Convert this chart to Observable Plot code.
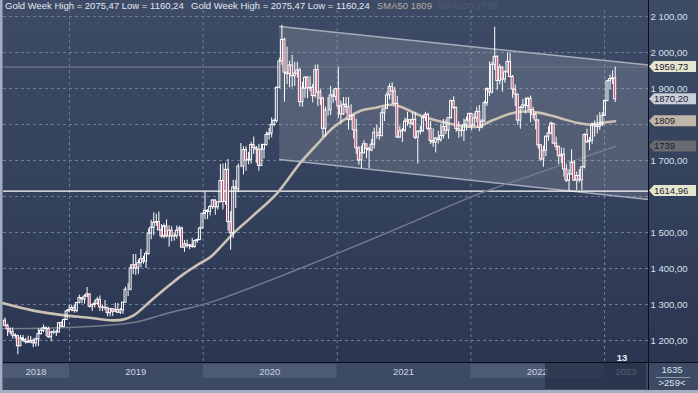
<!DOCTYPE html>
<html><head><meta charset="utf-8">
<script src="https://cdn.jsdelivr.net/npm/d3@7"></script>
<script src="https://cdn.jsdelivr.net/npm/@observablehq/plot@0.6"></script>
<style>
html,body{margin:0;padding:0;background:#2b3752;}
#chart svg{display:block}
</style></head><body><div id="chart"></div>
<script>
// Weekly gold candles, first week starting 2018-07-02
const firstWeek = "2018-07-02";
const opens = [
1252,1255,1241,1231,1223,1214,1212,1184,1206,1201,1196,1194,1199,1192,1203,1218,1227,1234,1232,1209,1222,1223,1222,1248,1238,1257,
1281,1285,1290,1282,1304,1318,1314,1322,1328,1294,1299,1302,1313,1292,1291,1290,1276,1287,1280,1285,1277,1284,1305,1341,1341,1400,
1409,1400,1415,1426,1419,1440,1497,1513,1527,1529,1506,1489,1517,1489,1505,1489,1490,1505,1511,1458,1467,1462,1464,1460,1476,1479,
1511,1552,1560,1557,1571,1589,1570,1584,1643,1585,1674,1529,1498,1625,1620,1683,1683,1729,1700,1702,1743,1735,1730,1685,1730,1743,
1771,1775,1799,1810,1902,1975,2035,1944,1940,1964,1934,1941,1950,1862,1900,1930,1900,1902,1879,1951,1889,1872,1788,1839,1839,1881,
1877,1898,1850,1828,1855,1848,1813,1824,1784,1734,1700,1720,1745,1732,1728,1744,1777,1777,1768,1831,1844,1881,1904,1892,1857,1764,
1781,1783,1808,1812,1802,1813,1763,1780,1781,1818,1827,1788,1754,1750,1761,1757,1768,1793,1783,1818,1865,1846,1788,1783,1782,1798,
1811,1829,1797,1817,1835,1791,1808,1859,1898,1889,1966,1988,1921,1958,1925,1945,1974,1932,1897,1883,1811,1846,1853,1851,1871,1840,
1827,1811,1742,1703,1727,1766,1775,1802,1747,1738,1712,1716,1675,1644,1661,1694,1644,1657,1645,1681,1771,1751,1755,1797,1798,1793,1798,1824,1865,1920,1926,1928];
const highs = [
1265,1262,1245,1235,1235,1219,1215,1214,1214,1206,1212,1211,1204,1207,1233,1233,1243,1238,1237,1226,1230,1229,1250,1252,1260,1284,
1298,1297,1299,1305,1326,1319,1327,1347,1330,1301,1311,1320,1324,1298,1311,1293,1289,1289,1303,1303,1289,1306,1348,1358,1411,1439,
1439,1424,1453,1434,1448,1510,1534,1555,1551,1557,1522,1524,1535,1519,1516,1498,1518,1517,1515,1478,1479,1467,1484,1479,1482,1515,
1553,1611,1564,1575,1591,1591,1584,1689,1690,1692,1703,1558,1645,1645,1690,1747,1738,1738,1722,1751,1765,1739,1745,1745,1746,1779,
1789,1818,1815,1905,1984,2075.47,2040,2015,1976,1992,1973,1973,1956,1917,1933,1933,1933,1911,1965,1966,1898,1876,1848,1875,1906,1896,
1901,1959,1865,1875,1875,1875,1855,1824,1815,1739,1740,1755,1745,1737,1758,1790,1798,1790,1843,1845,1890,1913,1916,1903,1878,1795,
1789,1818,1834,1814,1832,1832,1782,1795,1823,1834,1831,1809,1788,1764,1781,1801,1814,1813,1818,1868,1877,1849,1808,1793,1815,1821,
1832,1831,1830,1848,1853,1814,1865,1902,1974,1974,2070,1991,1966,1961,1949,1998,1998,1936,1910,1884,1850,1870,1874,1876,1879,1848,
1832,1814,1745,1740,1768,1794,1807,1802,1765,1740,1735,1734,1688,1675,1730,1700,1668,1675,1683,1774,1787,1764,1804,1810,1825,1833,1833,1869,1923,1937,1949,1959.73];
const lows = [
1238,1237,1211,1217,1204,1204,1160.24,1183,1195,1190,1192,1193,1180,1182,1183,1215,1222,1211,1206,1196,1217,1211,1221,1236,1236,1256,
1279,1280,1276,1277,1302,1302,1301,1320,1290,1281,1290,1298,1281,1280,1283,1266,1266,1267,1278,1275,1272,1273,1304,1322,1338,1383,
1381,1384,1402,1412,1400,1437,1480,1491,1517,1506,1484,1482,1485,1459,1474,1476,1482,1488,1456,1445,1457,1452,1456,1456,1470,1477,
1510,1535,1536,1546,1564,1548,1562,1582,1563,1576,1504,1451,1483,1567,1611,1680,1660,1670,1688,1690,1717,1692,1670,1683,1704,1740,
1757,1763,1794,1804,1900,1964,1862,1911,1902,1902,1906,1929,1849,1848,1873,1872,1891,1860,1873,1850,1853,1764,1765,1823,1825,1859,
1865,1817,1802,1825,1831,1785,1810,1760,1717,1687,1676,1718,1705,1677,1724,1732,1760,1756,1765,1808,1842,1868,1856,1855,1761,1761,
1750,1778,1795,1789,1797,1758,1690,1771,1778,1808,1782,1745,1737,1721,1746,1751,1760,1772,1759,1814,1842,1778,1762,1765,1753,1782,
1789,1783,1796,1805,1780,1788,1806,1850,1878,1885,1950,1895,1910,1890,1915,1943,1930,1872,1850,1798,1787,1840,1829,1836,1805,1816,
1785,1732,1697,1681,1711,1754,1771,1745,1727,1688,1691,1654,1639,1614.96,1659,1642,1617,1638,1617,1677,1747,1727,1745,1765,1774,1783,1795,1822,1865,1896,1911,1861];
const closes = [
1255,1241,1231,1223,1214,1212,1184,1206,1201,1196,1194,1199,1192,1203,1218,1227,1234,1232,1209,1222,1223,1222,1248,1238,1257,1281,
1285,1290,1282,1304,1318,1314,1322,1328,1294,1299,1302,1313,1292,1291,1290,1276,1287,1280,1285,1277,1284,1305,1341,1341,1400,1409,
1400,1415,1426,1419,1440,1497,1513,1527,1529,1506,1489,1517,1489,1505,1489,1490,1505,1511,1458,1467,1462,1464,1460,1476,1479,1511,
1552,1560,1557,1571,1589,1570,1584,1643,1585,1674,1529,1498,1625,1620,1683,1683,1729,1700,1702,1743,1735,1730,1685,1730,1743,1771,
1775,1799,1810,1902,1975,2035,1944,1940,1964,1934,1941,1950,1862,1900,1930,1900,1902,1879,1951,1889,1872,1788,1839,1839,1881,1877,
1898,1850,1828,1855,1848,1813,1824,1784,1734,1700,1720,1745,1732,1728,1744,1777,1777,1768,1831,1844,1881,1904,1892,1857,1764,1781,
1783,1808,1812,1802,1813,1763,1780,1781,1818,1827,1788,1754,1750,1761,1757,1768,1793,1783,1818,1865,1846,1788,1783,1782,1798,1811,
1829,1797,1817,1835,1791,1808,1859,1898,1889,1966,1988,1921,1958,1925,1945,1974,1932,1897,1883,1811,1846,1853,1851,1871,1840,1827,
1811,1742,1703,1727,1766,1775,1802,1747,1738,1712,1716,1675,1644,1661,1694,1644,1657,1645,1681,1771,1751,1755,1797,1798,1793,1798,1824,1865,1920,1926,1928,1870.20];

// Moving averages (week index -> value)
const sma50Week = [0,12,25,33,43,47,51,58,64,70,77,81,90,97,107,116,123,129,136,140,146,151,155,163,174,185,191,198,203,209,217,224,229,234,239];
const sma50Val  = [1304,1283,1269,1264,1256,1258,1269,1311,1347,1381,1414,1431,1497,1542,1608,1692,1747,1792,1825,1839,1847,1855,1850,1825,1803,1794,1811,1830,1836,1833,1819,1805,1800,1805,1809];
const sma200Week = [0,25,51,64,81,116,155,185,206,239];
const sma200Val  = [1233,1236,1250,1275,1306,1400,1514,1605,1658,1739];

// Channel
const channelDates = ["2020-07-28","2023-05-01"];
const channelUpper = [2072,1965];
const channelLower = [1703,1592];

// Levels & labels
const supportLevel = 1614.96;
const lastHighLevel = 1959.73;
const lastClose = 1870.20;
const sma50Last = 1809, sma200Last = 1739;
const axisTicks = [1200,1300,1400,1500,1700,1900,2000,2100];
const gridPrices = [1200,1300,1400,1500,1600,1700,1800,1900,2000,2100];
const yearStarts = ["2019-01-01","2020-01-01","2021-01-01","2022-01-01","2023-01-01"];
const yearLabels = ["2018","2019","2020","2021","2022","2023"];
const legendMain = "Gold Week High = 2075,47 Low = 1160,24";
const legendSma50 = "SMA50 1809";
const legendSma200 = "SMA200 1739";
const cornerTop = "1635", cornerBottom = ">259<", barCount = "13";

const DAY = 864e5;
const t0 = Date.parse(firstWeek + "T00:00Z");
const candles = opens.map((o,i)=>({date:new Date(t0 + i*7*DAY), o, h:highs[i], l:lows[i], c:closes[i]}));
const sma50 = sma50Week.map((w,i)=>({date:candles[w].date, v:sma50Val[i]}));
const sma200 = sma200Week.map((w,i)=>({date:candles[w].date, v:sma200Val[i]}));
const channel = channelDates.map((d,i)=>({date:new Date(d+"T00:00Z"), hi:channelUpper[i], lo:channelLower[i]}));
const xStart = new Date("2018-07-04T18:00Z"), xEnd = new Date("2023-05-01T00:00Z");
const fmt2 = v => d3.format(",.2f")(v).replace(/,/g," ").replace(".",",");
const half = 2.7*DAY;

const plot = Plot.plot({
  width:698, height:393, marginTop:10, marginRight:50, marginBottom:31, marginLeft:3,
  style:{background:"linear-gradient(180deg,#3e4b66 0%,#35425d 45%,#2b3752 92%)", fontFamily:"'Liberation Sans',Arial,sans-serif", fontSize:"9.5px", color:"#d8e0ea", overflow:"visible"},
  x:{type:"utc", domain:[xStart,xEnd], axis:null},
  y:{domain:[1138.9,2116.7]},
  marks:[
    Plot.ruleY(gridPrices,{stroke:"#6c7c99", strokeDasharray:"3,3"}),
    Plot.ruleX(yearStarts.map(d=>new Date(d+"T00:00Z")),{stroke:"#6c7c99", strokeDasharray:"3,3"}),
    Plot.areaY(channel,{x:"date", y1:"lo", y2:"hi", fill:"#ffffff", fillOpacity:0.14}),
    Plot.line(channel,{x:"date", y:"hi", stroke:"#a4acba", strokeWidth:1.5}),
    Plot.line(channel,{x:"date", y:"lo", stroke:"#a4acba", strokeWidth:1.5}),
    Plot.ruleY([lastHighLevel],{stroke:"#6a707e", strokeWidth:1.3}),
    Plot.ruleY([supportLevel],{stroke:"#ffffff", strokeWidth:1.4}),
    Plot.line(sma200,{x:"date", y:"v", stroke:"#757d8b", strokeWidth:1.4, curve:"catmull-rom"}),
    Plot.line(sma50,{x:"date", y:"v", stroke:"#cbc1b4", strokeWidth:2.6, curve:"catmull-rom"}),
    Plot.ruleX(candles,{x:"date", y1:"l", y2:d=>Math.min(d.o,d.c), stroke:"#ffffff", strokeWidth:1, clip:true}),
    Plot.ruleX(candles,{x:"date", y1:d=>Math.max(d.o,d.c), y2:"h", stroke:"#ffffff", strokeWidth:1, clip:true}),
    Plot.rect(candles.filter(d=>d.c>=d.o),{x1:d=>new Date(+d.date-half), x2:d=>new Date(+d.date+half), y1:"o", y2:"c", fill:"none", stroke:"#ffffff", strokeWidth:1, clip:true}),
    Plot.rect(candles.filter(d=>d.c<d.o),{x1:d=>new Date(+d.date-half), x2:d=>new Date(+d.date+half), y1:"o", y2:"c", fill:"#c4375a", stroke:"#ffffff", strokeWidth:1, clip:true}),
    Plot.axisY(axisTicks,{anchor:"right", tickSize:0, tickPadding:2, tickFormat:fmt2, fill:"#d8e0ea", fontSize:9.5})
  ]
});
document.getElementById("chart").appendChild(plot);

const X = plot.scale("x"), Y = plot.scale("y");
const svg = d3.select(plot);
const g = svg.append("g").attr("font-family","'Liberation Sans',Arial,sans-serif").attr("text-anchor","start").style("text-anchor","start");
const xs = [xStart, ...yearStarts.map(d=>new Date(d+"T00:00Z")), xEnd].map(d=>X.apply(d));
const txt = (x,y,s,fill,anchor,extra) => {
  const t = g.append("text").attr("x",x).attr("y",y).attr("font-size",9.5).attr("fill",fill).attr("text-anchor",anchor).style("text-anchor",anchor).text(s);
  if (extra) extra(t);
  return t;
};

// bottom time band
g.append("rect").attr("x",3).attr("y",363).attr("width",645).attr("height",27).attr("fill","#3d4a64");
yearLabels.forEach((lab,i)=>{
  const a = xs[i], b = xs[i+1];
  if (i%2===0) g.append("rect").attr("x",a).attr("y",364).attr("width",b-a).attr("height",14).attr("fill","#4d5a74");
  txt((a+b)/2,375,lab,"#c9d5e5","middle");
});
g.append("rect").attr("x",545).attr("y",363).attr("width",101).attr("height",26).attr("fill","#222d45").attr("fill-opacity",0.7);
txt(622,361,barCount,"#e8eef6","middle",t=>t.attr("font-weight","bold"));

// corner cell
g.append("rect").attr("x",649).attr("y",363).attr("width",49).attr("height",27).attr("fill","#3d4a64");
txt(672,373,cornerTop,"#dce4ee","middle");
g.append("line").attr("x1",656).attr("x2",690).attr("y1",377.5).attr("y2",377.5).attr("stroke","#8a98b0");
txt(672,386,cornerBottom,"#dce4ee","middle");

// frame lines
g.append("line").attr("x1",648.5).attr("x2",648.5).attr("y1",0).attr("y2",393).attr("stroke","#0a0f1a");
g.append("line").attr("x1",3).attr("x2",698).attr("y1",362.5).attr("y2",362.5).attr("stroke","#0a0f1a");
g.append("rect").attr("x",0).attr("y",0).attr("width",2.5).attr("height",393).attr("fill","#a3afc1");
g.append("rect").attr("x",0).attr("y",390).attr("width",698).attr("height",3).attr("fill","#a3afc1");

// legend
txt(5,8.5,legendMain,"#e2e8f0","start");
txt(191,8.5,legendMain,"#e2e8f0","start");
txt(377,8.5,legendSma50,"#b4aca4","start");
txt(437,8.5,legendSma200,"#4f5b71","start");

// price tags
const tags = [
  {v:lastHighLevel, t:"1959,73", fill:"#e6e6cf", tc:"#1d2230"},
  {v:lastClose, t:"1870,20", fill:"#c9ced8", tc:"#1d2230"},
  {v:sma50Last, t:"1809", fill:"#c1b5a9", tc:"#1d2230"},
  {v:sma200Last, t:"1739", fill:"#676b71", tc:"#1b1f27"},
  {v:supportLevel, t:"1614,96", fill:"#e6e6cf", tc:"#1d2230"}
];
tags.forEach(d=>{
  const py = Y.apply(d.v);
  g.append("path").attr("d",`M649,${py} L654,${py-5.5} L696,${py-5.5} L696,${py+5.5} L654,${py+5.5} Z`).attr("fill",d.fill);
  txt(654,py+3.5,d.t,d.tc,"start");
});
</script></body></html>
